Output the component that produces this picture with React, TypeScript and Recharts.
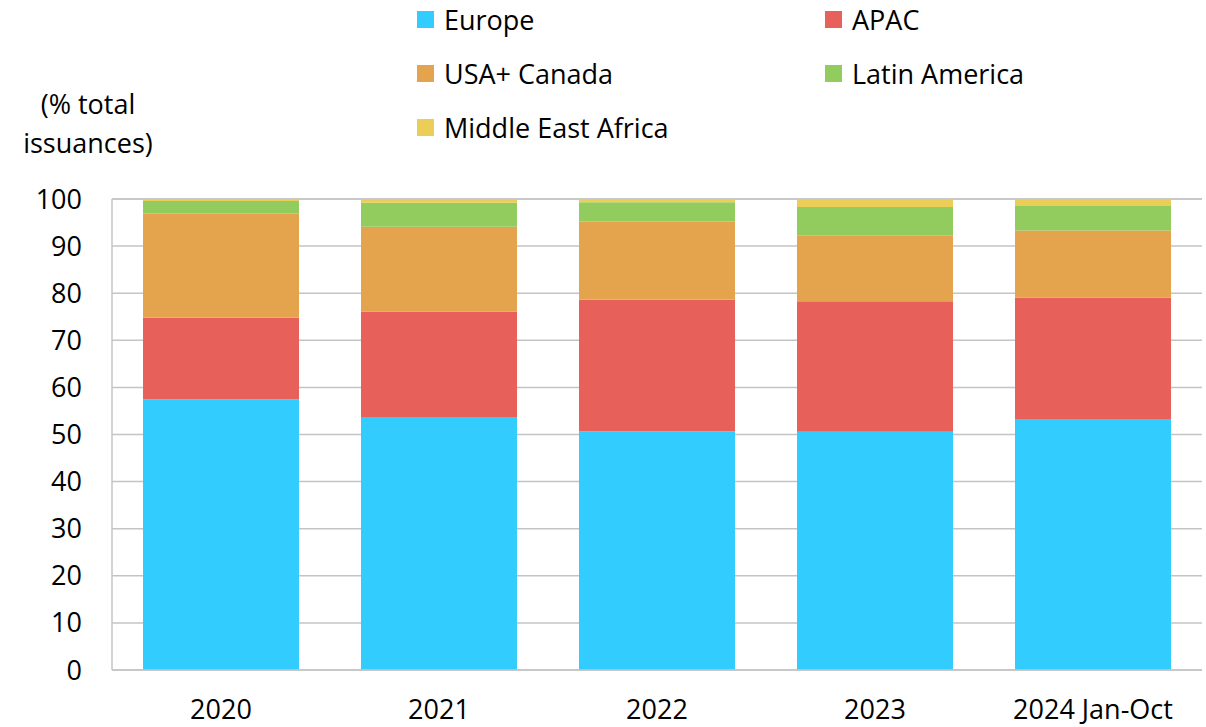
import { Bar, BarChart, CartesianGrid, XAxis, YAxis } from "recharts";

const years = ["2020", "2021", "2022", "2023", "2024 Jan-Oct"];
const europe = [57.5, 53.7, 50.7, 50.6, 53.3];
const apac = [17.3, 22.4, 27.9, 27.7, 25.8];
const usaCanada = [22.1, 18.0, 16.6, 13.9, 14.2];
const latinAmerica = [2.7, 5.1, 4.1, 6.1, 5.2];
const middleEastAfrica = [0.4, 0.8, 0.7, 1.7, 1.5];
const yTicks = [0, 10, 20, 30, 40, 50, 60, 70, 80, 90, 100];

const series = [
  { key: "europe", name: "Europe", color: "#33CCFF" },
  { key: "apac", name: "APAC", color: "#E8605A" },
  { key: "usa", name: "USA+ Canada", color: "#E4A44E" },
  { key: "latam", name: "Latin America", color: "#92CC5E" },
  { key: "mea", name: "Middle East Africa", color: "#EACE57" },
];

const data = years.map((year, i) => ({
  year,
  europe: europe[i],
  apac: apac[i],
  usa: usaCanada[i],
  latam: latinAmerica[i],
  mea: middleEastAfrica[i],
}));

const font = "'Open Sans', sans-serif";
const tickStyle = { fontSize: 27, fill: "#000", fontFamily: font };

// legend is two columns, filled row by row like the original
function LegendGrid() {
  return (
    <>
      {series.map((s, i) => {
        const col = i % 2;
        const row = Math.floor(i / 2);
        return (
          <div
            key={s.key}
            style={{
              position: "absolute",
              left: col === 0 ? 417 : 825,
              top: 19 + row * 54 - 20,
              height: 40,
              display: "flex",
              alignItems: "center",
              fontFamily: font,
              fontSize: 27,
              color: "#000",
              whiteSpace: "nowrap",
            }}
          >
            <span
              style={{
                width: 17,
                height: 17,
                background: s.color,
                display: "inline-block",
                marginRight: 10,
              }}
            />
            {s.name}
          </div>
        );
      })}
    </>
  );
}

export default function App() {
  return (
    <div
      style={{
        position: "absolute",
        left: 0,
        top: 0,
        width: 1206,
        height: 727,
        background: "#fff",
      }}
    >
      <BarChart
        width={1206}
        height={727}
        data={data}
        margin={{ top: 199, right: 4, bottom: 0, left: 0 }}
      >
        <CartesianGrid
          vertical={false}
          stroke="#c4c4c4"
          strokeWidth={1.5}
        />
        <XAxis
          dataKey="year"
          tick={tickStyle}
          tickLine={false}
          tickSize={0}
          tickMargin={30}
          axisLine={{ stroke: "#c4c4c4", strokeWidth: 1.5 }}
          height={57}
        />
        <YAxis
          domain={[0, 100]}
          ticks={yTicks}
          tick={tickStyle}
          tickLine={false}
          tickSize={0}
          tickMargin={30}
          axisLine={{ stroke: "#c4c4c4", strokeWidth: 1.5 }}
          width={112}
          interval={0}
        />
        {series.map((s) => (
          <Bar
            key={s.key}
            dataKey={s.key}
            name={s.name}
            stackId="a"
            fill={s.color}
            barSize={156}
            isAnimationActive={false}
          />
        ))}
      </BarChart>
      <div
        style={{
          position: "absolute",
          left: 0,
          top: 84,
          width: 176,
          textAlign: "center",
          fontFamily: font,
          fontSize: 27,
          lineHeight: "39px",
          color: "#000",
        }}
      >
        (% total
        <br />
        issuances)
      </div>
      <LegendGrid />
    </div>
  );
}
